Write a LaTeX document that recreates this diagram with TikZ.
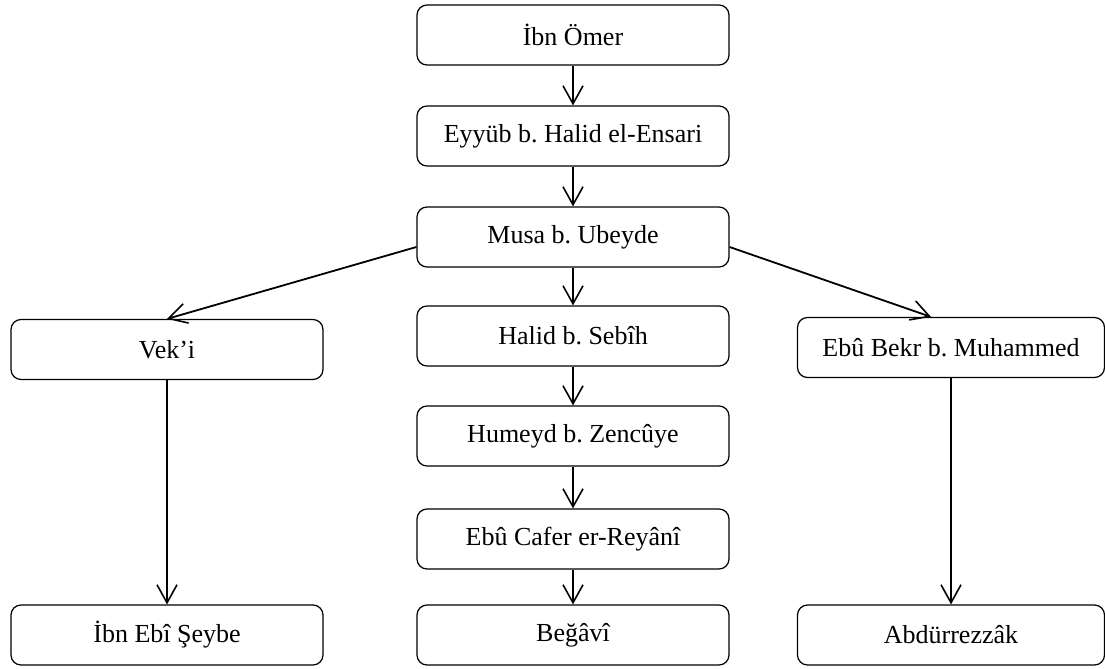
\documentclass[tikz,border=0pt]{standalone}
\usepackage{fontspec}
\setmainfont{Liberation Serif}
\usetikzlibrary{arrows.meta}
\frenchspacing
\begin{document}
\begin{tikzpicture}[x=0.5pt,y=-0.5pt,
  box/.style={draw,rounded corners=5pt,minimum width=156pt,minimum height=30pt,inner sep=0pt,font=\fontsize{13}{15}\selectfont,line width=0.6pt},
  wbox/.style={box,minimum width=153.5pt},
  conn/.style={line width=0.9pt,-{Straight Barb[length=9pt,width=10pt,line width=0.8pt]}}]
\useasboundingbox (0,0) rectangle (1105,669);
\node[box] (ibn) at (573,35) {İbn Ömer};
\node[box] (eyy) at (573,136) {Eyyüb b. Halid el-Ensari};
\node[box] (musa) at (573,237) {Musa b. Ubeyde};
\node[box] (halid) at (573,336) {Halid b. Sebîh};
\node[box] (humeyd) at (573,436) {Humeyd b. Zencûye};
\node[box] (cafer) at (573,539) {Ebû Cafer er-Reyânî};
\node[box] (begavi) at (573,635) {Beğâvî};
\node[box] (vek) at (167,349.5) {Vek’i};
\node[box] (sey) at (167,635) {İbn Ebî Şeybe};
\node[wbox] (bekr) at (951,347.5) {Ebû Bekr b. Muhammed};
\node[wbox] (abd) at (951,635) {Abdürrezzâk};
\draw[conn] (ibn) -- (eyy);
\draw[conn] (eyy) -- (musa);
\draw[conn] (musa) -- (halid);
\draw[conn] (halid) -- (humeyd);
\draw[conn] (humeyd) -- (cafer);
\draw[conn] (cafer) -- (begavi);
\draw[conn] ([yshift=-5pt]musa.west) -- (vek.north);
\draw[conn] ([yshift=-5pt]musa.east) -- ([xshift=-10pt]bekr.north);
\draw[conn] (vek) -- (sey);
\draw[conn] (bekr) -- (abd);
\end{tikzpicture}
\end{document}
